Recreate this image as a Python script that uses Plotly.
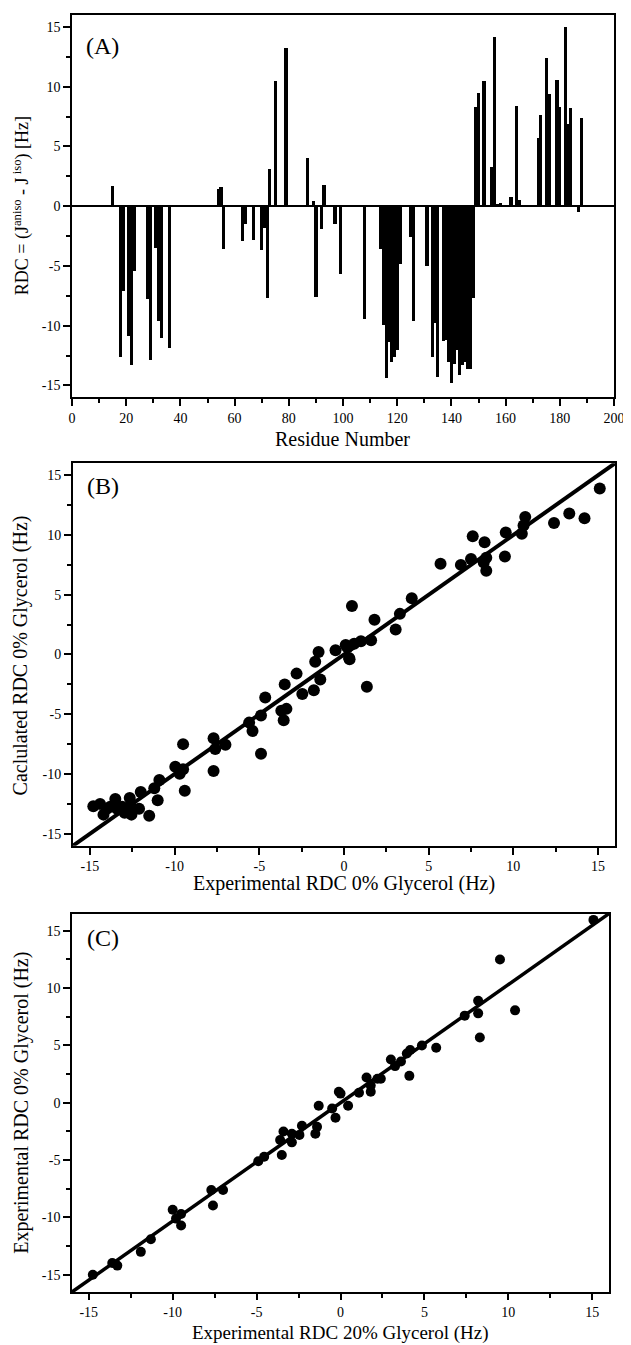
import plotly.graph_objects as go

# ---------------- Panel A data ----------------
residues = [15, 18, 19, 21, 22, 23, 28, 29, 31, 32, 33, 36,
            54, 55, 56, 63, 64, 67, 70, 71, 72, 73, 75, 79,
            87, 89, 90, 92, 93, 97, 99, 108,
            114, 115, 116, 117, 118, 119, 120, 121, 125, 126, 131,
            133, 134, 135, 137, 138, 139, 140, 141, 142, 143, 144, 145, 146, 147, 148,
            149, 150, 152, 155, 156, 157, 158, 162, 164, 165,
            172, 173, 175, 176, 179, 180, 182, 183, 184, 187, 188]
rdc = [1.7, -12.6, -7.1, -10.9, -13.3, -5.4, -7.8, -12.9, -3.5, -9.6, -11.0, -11.9,
       1.4, 1.6, -3.6, -2.9, -1.5, -2.8, -3.7, -1.8, -7.7, 3.1, 10.5, 13.2,
       4.0, 0.4, -7.6, -1.9, 1.8, -1.5, -5.7, -9.4,
       -3.6, -9.9, -14.4, -11.4, -13.0, -12.6, -12.0, -4.8, -2.6, -9.6, -5.0,
       -12.6, -9.8, -14.3, -11.3, -11.2, -13.0, -14.8, -13.2, -12.0, -14.1, -13.3, -13.0, -13.6, -13.6, -7.7,
       8.3, 9.5, 10.5, 3.3, 14.2, 0.2, 0.3, 0.8, 8.4, 0.5,
       5.7, 7.6, 12.4, 9.4, 10.6, 8.3, 15.0, 6.9, 8.2, -0.5, 7.4]

# ---------------- Panel B data ----------------
expB = [15.1, 13.3, 12.4, 14.2, 10.7, 10.6, 10.5, 9.55, 9.5, 8.3, 7.6, 8.4, 8.25, 8.4,
        7.5, 6.9, 5.7, 4.0, 3.3, 3.05, 1.8, 0.47, 0.33, 1.35,
        -0.5, 0.2, 0.3, 0.6, 1.0, 1.6, -1.5, 0.1,
        -1.7, -2.8, -3.5, -1.4, -1.78, -2.46, -4.65, -4.9, -3.4, -3.7, -3.56, -5.6, -5.4,
        -4.9, -7.7, -7.6, -7.0, -7.7, -9.5, -9.96, -9.5, -9.7, -9.4, -10.9, -11.2, -11.0,
        -12.0, -11.5, -12.1, -12.65, -12.6, -12.55, -12.95, -13.5, -13.4, -13.8, -14.2,
        -14.4, -14.8, -14.0, -13.1]
calcB = [13.9, 11.8, 11.0, 11.4, 11.5, 10.8, 10.1, 10.2, 8.2, 9.4, 9.9, 8.1, 7.7, 7.0,
         8.0, 7.5, 7.6, 4.7, 3.4, 2.1, 2.9, 4.06, -0.4, -2.7,
         0.35, 0.6, -0.3, 0.9, 1.1, 1.2, 0.2, 0.8,
         -0.6, -1.6, -2.5, -2.1, -3.0, -3.3, -3.6, -5.1, -4.55, -4.7, -5.5, -5.7, -6.4,
         -8.3, -7.0, -7.9, -7.55, -9.75, -7.5, -9.4, -9.6, -9.97, -11.4, -10.5, -11.2, -12.2,
         -11.5, -13.5, -12.9, -12.0, -12.7, -13.4, -13.25, -12.1, -12.9, -12.75, -13.4,
         -12.5, -12.7, -12.9, -12.75]

# ---------------- Panel C data ----------------
exp20 = [-14.76, -13.6, -13.3, -11.9, -11.3, -10.0, -9.8, -9.5, -9.5, -7.7, -7.6, -7.0,
         -4.9, -4.55, -3.5, -3.6, -3.4, -2.9, -2.9, -2.3, -2.45, -1.5, -1.4, -1.3,
         -0.5, -0.3, -0.1, 0.0, 0.45, 1.1, 1.55, 1.8, 1.8, 2.2, 2.4, 3.0, 3.25, 3.6,
         3.95, 4.15, 4.1, 4.85, 5.7, 7.4, 8.2, 8.2, 8.3, 10.4, 9.5, 15.07]
exp0 = [-14.99, -13.97, -14.2, -13.0, -11.9, -9.33, -10.1, -10.7, -9.7, -7.6, -8.96, -7.6,
        -5.1, -4.7, -4.55, -3.25, -2.5, -2.7, -3.45, -2.0, -2.8, -2.7, -2.1, -0.26,
        -0.5, -1.3, 0.96, 0.8, -0.26, 0.87, 2.2, 0.96, 1.5, 2.1, 2.1, 3.77, 3.2, 3.6,
        4.3, 4.6, 2.35, 5.0, 4.8, 7.6, 8.9, 7.8, 5.7, 8.06, 12.5, 15.95]

fitB_x = [-16, 16]
fitB_y = [-16, 16]
fitC_x = [-16, 16]
fitC_y = [-16.5, 16.5]

# tick labels (hyphen minus as in the reference)
residue_ticks = [0, 20, 40, 60, 80, 100, 120, 140, 160, 180, 200]
residue_ticktext = ["0", "20", "40", "60", "80", "100", "120", "140", "160", "180", "200"]
rdc_ticks = [-15, -10, -5, 0, 5, 10, 15]
rdc_ticktext = ["-15", "-10", "-5", "0", "5", "10", "15"]

FONT = "Liberation Serif"
# the page body adds an 8px margin; the figure is sized to fill the rest
OFF = 8
W, H = 631 - OFF, 1345 - OFF
ML, MR, MT, MB = 72 - OFF, 11, 13 - OFF, 53
PW = W - ML - MR
PH = H - MT - MB


def px(x):
    return (x - OFF - ML) / PW


def py(y):
    return (H - MB - (y - OFF)) / PH


fig = go.Figure()

fig.add_trace(go.Bar(x=residues, y=rdc, width=1.2, marker=dict(color="black", line=dict(width=0)),
                     xaxis="x", yaxis="y", showlegend=False))

fig.add_trace(go.Scatter(x=fitB_x, y=fitB_y, mode="lines", line=dict(color="black", width=4),
                         xaxis="x2", yaxis="y2", showlegend=False, cliponaxis=False))
fig.add_trace(go.Scatter(x=expB, y=calcB, mode="markers", marker=dict(color="black", size=12),
                         xaxis="x2", yaxis="y2", showlegend=False))

fig.add_trace(go.Scatter(x=fitC_x, y=fitC_y, mode="lines", line=dict(color="black", width=3.5),
                         xaxis="x3", yaxis="y3", showlegend=False, cliponaxis=False))
fig.add_trace(go.Scatter(x=exp20, y=exp0, mode="markers", marker=dict(color="black", size=10),
                         xaxis="x3", yaxis="y3", showlegend=False))

tickfont = dict(family=FONT, size=14, color="black")


def ax(domain, rng, tickvals, ticktext, minor_dtick, anchor, lw=1.5, zeroline=False, ticklen=7):
    return dict(domain=domain, range=rng, tickmode="array", tickvals=tickvals, ticktext=ticktext,
                anchor=anchor,
                showline=True, linecolor="black", linewidth=lw, mirror=True,
                ticks="outside", ticklen=ticklen, tickwidth=1.5, tickcolor="black",
                minor=dict(ticks="outside", ticklen=4, tickwidth=1.5, tickcolor="black",
                           dtick=minor_dtick, tick0=0),
                showgrid=False, zeroline=zeroline, zerolinecolor="black", zerolinewidth=1.5,
                tickfont=tickfont, fixedrange=True)


fig.update_layout(
    width=W, height=H, autosize=False,
    margin=dict(l=ML, r=MR, t=MT, b=MB),
    paper_bgcolor="white", plot_bgcolor="white",
    font=dict(family=FONT, color="black"),
    bargap=0,
    xaxis=ax([0, px(619)], [0, 200], residue_ticks, residue_ticktext, 10, "y"),
    yaxis=ax([py(396), py(13)], [-16, 16], rdc_ticks, rdc_ticktext, 2.5, "x", zeroline=True),
    xaxis2=ax([px(73), px(620)], [-16, 16], rdc_ticks, rdc_ticktext, 2.5, "y2", lw=2),
    yaxis2=ax([py(845), py(462)], [-16, 16], rdc_ticks, rdc_ticktext, 2.5, "x2", lw=2),
    xaxis3=ax([px(72), px(614)], [-16, 16], rdc_ticks, rdc_ticktext, 2.5, "y3", ticklen=6),
    yaxis3=ax([py(1292), py(913)], [-16.5, 16.5], rdc_ticks, rdc_ticktext, 2.5, "x3"),
)


def label(text, x, y, size, angle=0):
    fig.add_annotation(text=text, x=px(x), y=py(y), xref="paper", yref="paper",
                       showarrow=False, textangle=angle, xanchor="center", yanchor="middle",
                       font=dict(family=FONT, size=size, color="black"))


label("(A)", 103, 44, 24)
label("(B)", 103, 485, 24)
label("(C)", 103, 937, 24)

label("Residue Number", 345, 438, 20)
label("RDC = (J<sup>aniso</sup> - J<sup> iso</sup>) [Hz]", 21, 204, 18, -90)

label("Experimental RDC 0% Glycerol (Hz)", 346, 883, 20)
label("Caclulated RDC 0% Glycerol (Hz)", 21, 654, 20, -90)

label("Experimental RDC 20% Glycerol (Hz)", 343, 1333, 19)
label("Experimental RDC 0% Glycerol (Hz)", 21, 1102, 20, -90)

fig.write_html("out.html")
